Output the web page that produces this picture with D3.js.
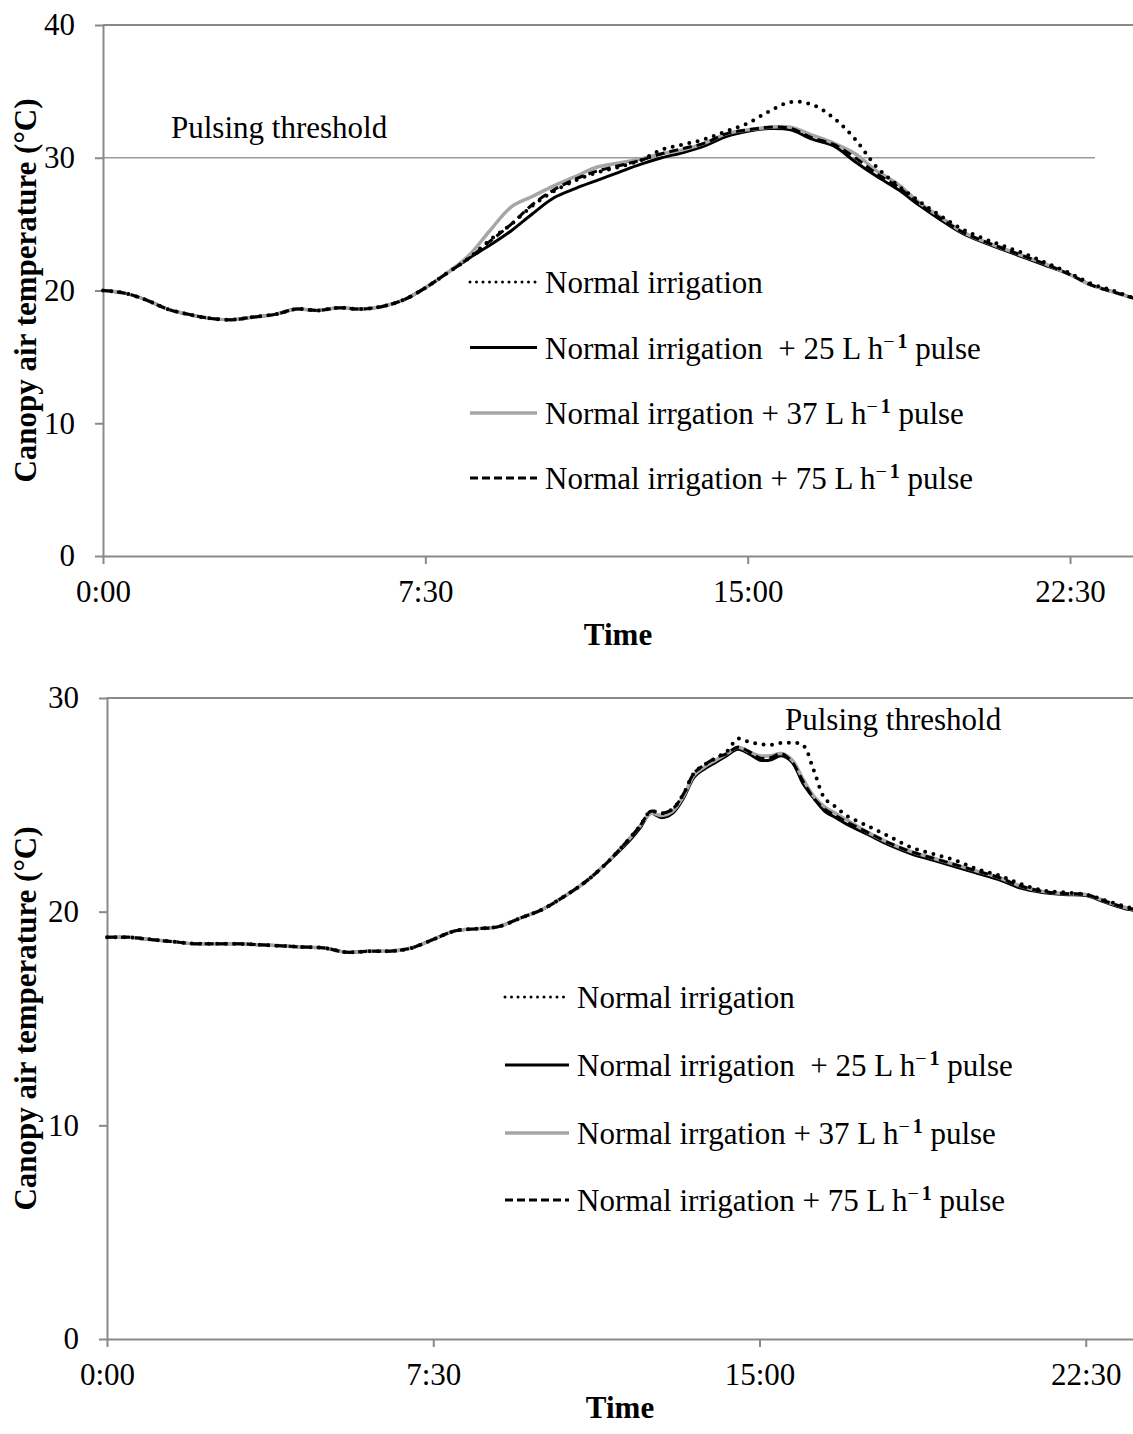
<!DOCTYPE html>
<html>
<head>
<meta charset="utf-8">
<script src="https://cdn.jsdelivr.net/npm/d3@7"></script>
<style>
  body { margin: 0; background: #fff; }
  svg { display: block; font-family: "Liberation Serif", "Times New Roman", serif; }
  .axis path, .axis line { stroke: #898989; stroke-width: 2; }
  .axis text { font-size: 31px; fill: #000; font-family: "Liberation Serif", serif; }
</style>
</head>
<body>
<svg id="chart" width="1133" height="1434"></svg>
<script>
// ---- data: top panel (30 min steps, hours) ----
const topTimes = [0,0.5,1,1.5,2,2.5,3,3.5,4,4.5,5,5.5,6,6.5,7,7.5,8,8.5,9,9.5,10,10.5,11,11.5,12,
  12.5,13,13.5,14,14.5,15,15.5,16,16.5,17,17.5,18,18.5,19,19.5,20,20.5,21,21.5,22,22.5,23,23.5,24];
const topNormal = [20.0,19.8,19.3,18.6,18.2,17.9,17.8,18.0,18.2,18.6,18.5,18.7,18.6,18.8,19.3,20.2,21.3,22.4,23.8,25.0,26.4,
  27.5,28.3,28.9,29.3,29.8,30.6,31.0,31.4,32.0,32.6,33.5,34.2,34.0,33.0,31.4,29.3,27.9,26.7,25.6,24.6,23.9,23.3,22.7,22.0,21.3,20.5,20.0,19.4];
const top25 = [20.0,19.8,19.3,18.6,18.2,17.9,17.8,18.0,18.2,18.6,18.5,18.7,18.6,18.8,19.3,20.2,21.3,22.4,23.4,24.5,25.8,
  27.0,27.7,28.3,28.9,29.5,30.0,30.4,30.9,31.6,32.0,32.2,32.1,31.4,30.9,29.7,28.6,27.6,26.4,25.3,24.3,23.6,23.0,22.4,21.8,21.2,20.4,19.9,19.4];
const top37 = [20.0,19.8,19.3,18.6,18.2,17.9,17.8,18.0,18.2,18.6,18.5,18.7,18.6,18.8,19.3,20.2,21.3,22.6,24.5,26.3,27.1,
  27.9,28.6,29.3,29.6,29.9,30.3,30.6,31.1,31.8,32.1,32.3,32.3,31.7,31.1,30.3,29.0,28.0,26.6,25.5,24.4,23.7,23.1,22.5,21.9,21.2,20.4,19.9,19.4];
const top75 = [20.0,19.8,19.3,18.6,18.2,17.9,17.8,18.0,18.2,18.6,18.5,18.7,18.6,18.8,19.3,20.2,21.3,22.4,23.7,25.0,26.5,
  27.6,28.4,29.0,29.4,29.8,30.3,30.7,31.1,31.8,32.1,32.3,32.2,31.5,31.0,30.0,28.8,27.8,26.5,25.4,24.4,23.7,23.1,22.5,21.9,21.2,20.4,19.9,19.4];

// ---- data: bottom panel ----
const botTimes = [0,0.5,1,1.5,2,2.5,3,3.5,4,4.5,5,5.5,6,6.5,7,7.5,8,8.5,9,9.5,10,10.5,11,11.5,12,
  12.25,12.5,12.75,13,13.25,13.5,13.75,14,14.25,14.5,14.75,15,15.25,15.5,15.75,16,16.25,16.5,16.75,17,
  17.5,18,18.5,19,19.5,20,20.5,21,21.5,22,22.5,23,23.5,24];
const botNormal = [18.8,18.8,18.7,18.6,18.5,18.5,18.5,18.45,18.4,18.35,18.3,18.1,18.15,18.15,18.3,18.7,19.1,19.2,19.3,19.7,20.1,20.7,21.4,22.3,23.4,
  24.0,24.7,24.6,24.8,25.5,26.5,26.9,27.2,27.5,28.1,27.95,27.85,27.8,27.9,27.9,27.8,26.6,25.3,24.9,24.5,
  24.0,23.5,23.0,22.7,22.4,22.0,21.7,21.3,21.0,20.9,20.8,20.5,20.2,20.1];
const bot25 = [18.8,18.8,18.7,18.6,18.5,18.5,18.5,18.45,18.4,18.35,18.3,18.1,18.15,18.15,18.3,18.7,19.1,19.2,19.3,19.7,20.1,20.7,21.4,22.3,23.3,
  23.9,24.6,24.4,24.6,25.3,26.3,26.7,27.0,27.3,27.6,27.4,27.1,27.1,27.3,27.0,26.0,25.3,24.7,24.4,24.1,
  23.6,23.1,22.7,22.4,22.1,21.8,21.5,21.1,20.9,20.8,20.75,20.4,20.1,20.0];
const bot37 = [18.8,18.8,18.7,18.6,18.5,18.5,18.5,18.45,18.4,18.35,18.3,18.1,18.15,18.15,18.3,18.7,19.1,19.2,19.3,19.7,20.1,20.7,21.4,22.3,23.4,
  24.0,24.6,24.5,24.7,25.4,26.4,26.8,27.1,27.4,27.7,27.5,27.3,27.3,27.4,27.1,26.2,25.4,24.9,24.6,24.3,
  23.7,23.2,22.8,22.5,22.2,21.9,21.6,21.2,20.95,20.85,20.8,20.45,20.15,20.05];
const bot75 = [18.8,18.8,18.7,18.6,18.5,18.5,18.5,18.45,18.4,18.35,18.3,18.1,18.15,18.15,18.3,18.7,19.1,19.2,19.3,19.7,20.1,20.7,21.4,22.3,23.4,
  24.0,24.7,24.6,24.8,25.5,26.5,26.9,27.2,27.4,27.7,27.5,27.2,27.2,27.4,27.0,26.1,25.3,24.8,24.5,24.2,
  23.7,23.2,22.8,22.5,22.2,21.9,21.6,21.2,20.95,20.85,20.8,20.45,20.15,20.05];

const seriesNames = [
  'Normal irrigation',
  'Normal irrigation  + 25 L h',
  'Normal irrgation + 37 L h',
  'Normal irrigation + 75 L h'
];
const timeTicks = [0, 7.5, 15, 22.5];

// draw order: solid, grey, dashed, dotted on top
const styles = [
  {idx: 1, stroke: '#000', width: 3, dash: null, cap: 'butt'},
  {idx: 2, stroke: '#a6a6a6', width: 3.5, dash: null, cap: 'butt'},
  {idx: 3, stroke: '#000', width: 3, dash: '9,5', cap: 'butt'},
  {idx: 0, stroke: '#000', width: 4, dash: '0,8.5', cap: 'round'}
];
const legendStyles = [
  {stroke: '#000', width: 3, dash: '0,6.5', cap: 'round'},
  {stroke: '#000', width: 3, dash: null, cap: 'butt'},
  {stroke: '#a6a6a6', width: 3.5, dash: null, cap: 'butt'},
  {stroke: '#000', width: 3, dash: '8,4', cap: 'butt'}
];

const svg = d3.select('#chart');

function fmtTime(h) {
  const hh = Math.floor(h), mm = Math.round((h - hh) * 60);
  return hh + ':' + (mm < 10 ? '0' : '') + mm;
}

function drawPanel(cfg) {
  const x = d3.scaleLinear().domain([0, 24]).range([cfg.left, cfg.left + 24 * cfg.hourPx]);
  const y = d3.scaleLinear().domain([0, cfg.yMax]).range([cfg.bottom, cfg.top]);
  const g = svg.append('g');

  // frame top line
  g.append('line')
    .attr('x1', cfg.left).attr('x2', 1133)
    .attr('y1', cfg.top).attr('y2', cfg.top)
    .attr('stroke', '#898989').attr('stroke-width', 2);

  if (cfg.threshLine) {
    g.append('line')
      .attr('x1', cfg.left).attr('x2', cfg.threshEnd)
      .attr('y1', y(30)).attr('y2', y(30))
      .attr('stroke', '#9a9a9a').attr('stroke-width', 1.5);
  }

  g.append('g').attr('class', 'axis')
    .attr('transform', 'translate(' + cfg.left + ',0)')
    .call(d3.axisLeft(y).tickValues(cfg.yTicks).tickSize(8).tickSizeOuter(0).tickPadding(cfg.yPad));

  g.append('g').attr('class', 'axis')
    .attr('transform', 'translate(0,' + cfg.bottom + ')')
    .call(d3.axisBottom(x).tickValues(timeTicks).tickFormat(fmtTime).tickSize(8).tickSizeOuter(0).tickPadding(16));

  const line = d3.line()
    .x((d, i) => x(cfg.times[i]))
    .y(d => y(d))
    .curve(d3.curveCatmullRom.alpha(0.5));

  styles.forEach(s => {
    g.append('path')
      .datum(cfg.series[s.idx])
      .attr('fill', 'none')
      .attr('stroke', s.stroke)
      .attr('stroke-width', s.width)
      .attr('stroke-dasharray', s.dash)
      .attr('stroke-linecap', s.cap)
      .attr('stroke-linejoin', 'round')
      .attr('d', line);
  });

  // threshold label
  g.append('text')
    .attr('x', cfg.threshX).attr('y', cfg.threshY)
    .attr('font-size', 31)
    .text('Pulsing threshold');

  // legend
  const leg = g.append('g');
  seriesNames.forEach((name, i) => {
    const ly = cfg.legendY[i];
    const s = legendStyles[i];
    leg.append('line')
      .attr('x1', cfg.legendX0).attr('x2', cfg.legendX1)
      .attr('y1', ly).attr('y2', ly)
      .attr('stroke', s.stroke)
      .attr('stroke-width', s.width)
      .attr('stroke-dasharray', s.dash)
      .attr('stroke-linecap', s.cap);
    const t = leg.append('text')
      .attr('x', cfg.legendX1 + cfg.legendGap)
      .attr('y', ly + 11)
      .attr('font-size', 31)
      .style('white-space', 'pre')
      .text(name);
    if (i > 0) {
      t.append('tspan').attr('font-size', 20).attr('dy', -11).text('\u2212');
      t.append('tspan').attr('font-size', 20).attr('font-weight', 'bold').attr('dx', 3).text('1');
      t.append('tspan').attr('dy', 11).text(' pulse');
    }
  });

  // axis titles
  g.append('text')
    .attr('transform', 'translate(36,' + ((cfg.top + cfg.bottom) / 2) + ') rotate(-90)')
    .attr('text-anchor', 'middle')
    .attr('font-size', 31).attr('font-weight', 'bold')
    .text('Canopy air temperature (\u00B0C)');

  g.append('text')
    .attr('x', (cfg.left + 1133) / 2).attr('y', cfg.timeY)
    .attr('text-anchor', 'middle')
    .attr('font-size', 31).attr('font-weight', 'bold')
    .text('Time');
}

drawPanel({
  left: 103, hourPx: 42.98, top: 25, bottom: 556, yMax: 40, yTicks: [0, 10, 20, 30, 40], yPad: 20,
  times: topTimes, series: [topNormal, top25, top37, top75],
  threshLine: true, threshEnd: 1095, threshX: 171, threshY: 138,
  legendX0: 470, legendX1: 537, legendGap: 8, legendY: [282, 347.5, 413, 478],
  timeY: 645
});

drawPanel({
  left: 107, hourPx: 43.5, top: 698, bottom: 1339, yMax: 30, yTicks: [0, 10, 20, 30], yPad: 20,
  times: botTimes, series: [botNormal, bot25, bot37, bot75],
  threshLine: false, threshX: 785, threshY: 730,
  legendX0: 505, legendX1: 569, legendGap: 8, legendY: [997, 1065, 1133, 1200],
  timeY: 1418
});
</script>
</body>
</html>
